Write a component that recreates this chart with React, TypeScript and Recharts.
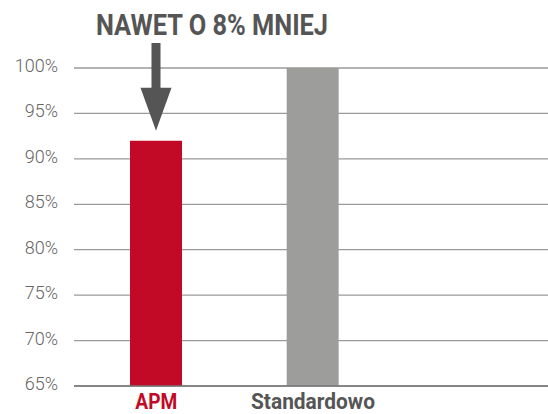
import React from 'react';
import { BarChart, Bar, XAxis, YAxis, CartesianGrid, Cell, LabelList } from 'recharts';

const categories = ['APM', 'Standardowo', ''];
const values: (number | null)[] = [92, 100, null];
const barColors = ['#C20A26', '#9D9D9B', '#9D9D9B'];
const labelColors = ['#C20A26', '#555555', '#555555'];
const labelWidths = [42, 124, 0];
const yTicks = [65, 70, 75, 80, 85, 90, 95, 100];
const title = 'NAWET O 8% MNIEJ';

const data = categories.map((c, i) => ({ name: c, value: values[i] }));

const XTick = (props: any) => {
  const { x, payload, index } = props;
  if (!payload.value) return null;
  return (
    <text
      x={x}
      y={408.5}
      textAnchor="middle"
      fill={labelColors[index]}
      fontFamily="Roboto, 'DejaVu Sans', sans-serif"
      fontWeight={700}
      fontSize={21.5}
      textLength={labelWidths[index]}
      lengthAdjust="spacingAndGlyphs"
    >
      {payload.value}
    </text>
  );
};

const YTick = (props: any) => {
  const { y, payload } = props;
  return (
    <text
      x={58}
      y={y + 4}
      textAnchor="end"
      fill="#666"
      fontFamily="Roboto, sans-serif"
      fontWeight={300}
      fontSize={18}
    >
      {payload.value}%
    </text>
  );
};

const ArrowLabel = (props: any) => {
  const { x, y, width, index } = props;
  if (index !== 0) return null;
  const cx = x + width / 2;
  const tip = y - 10;
  const headTop = tip - 43;
  const shaftTop = 43;
  return (
    <g>
      <path
        d={`M${cx - 4.5},${shaftTop} L${cx + 4.5},${shaftTop} L${cx + 4.5},${headTop} L${cx + 15.5},${headTop} L${cx},${tip} L${cx - 15.5},${headTop} L${cx - 4.5},${headTop} Z`}
        fill="#555555"
      />
      <text
        x={96}
        y={35}
        fill="#555555"
        fontFamily="Roboto, sans-serif"
        fontWeight={700}
        fontSize={29}
        textLength={232}
        lengthAdjust="spacingAndGlyphs"
      >
        {title}
      </text>
    </g>
  );
};

export default function App() {
  return (
    <div style={{ position: 'absolute', left: 0, top: 0, width: 548, height: 414, background: '#fff' }}>
      <BarChart
        width={548}
        height={414}
        data={data}
        margin={{ top: 68, right: 0, bottom: 0, left: 0 }}
        barCategoryGap={0}
      >
        <CartesianGrid vertical={false} stroke="#9a9a9a" strokeWidth={1.3} />
        <XAxis
          dataKey="name"
          height={28}
          axisLine={{ stroke: '#777', strokeWidth: 1.3 }}
          tickLine={false}
          tick={<XTick />}
          padding={{ left: 4, right: 0 }}
          interval={0}
        />
        <YAxis
          width={74}
          domain={[65, 100]}
          ticks={yTicks}
          axisLine={false}
          tickLine={false}
          tick={<YTick />}
          allowDataOverflow
        />
        <Bar dataKey="value" barSize={52} isAnimationActive={false}>
          {data.map((d, i) => (
            <Cell key={i} fill={barColors[i]} />
          ))}
          <LabelList dataKey="value" content={<ArrowLabel />} />
        </Bar>
      </BarChart>
    </div>
  );
}
